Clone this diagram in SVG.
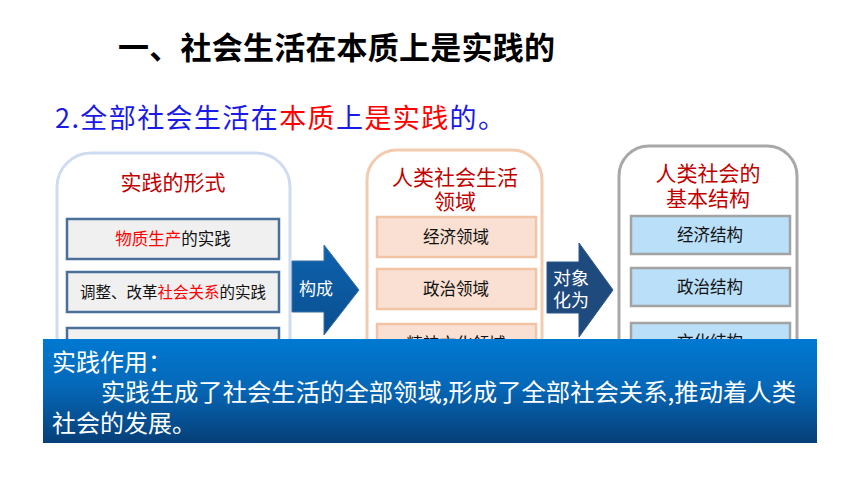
<svg xmlns="http://www.w3.org/2000/svg" width="860" height="484" viewBox="0 0 860 484">
<defs>
<linearGradient id="gBlue" x1="0" y1="0" x2="0" y2="1">
<stop offset="0" stop-color="#0079d2"/>
<stop offset="0.45" stop-color="#0568b8"/>
<stop offset="1" stop-color="#063f78"/>
</linearGradient>
<linearGradient id="gArr1" x1="0" y1="0" x2="0" y2="1">
<stop offset="0" stop-color="#0d62ae"/>
<stop offset="1" stop-color="#0a4f90"/>
</linearGradient>
</defs>
<style>
text{font-family:"Noto Sans CJK SC","Noto Sans",sans-serif;}
.ttl{font-size:21px;fill:#c00000;text-anchor:middle;}
.bt{font-size:16.5px;fill:#111;text-anchor:middle;}
.red{fill:#ff0000;}
.boxL{fill:#f0f0f0;stroke:#4a6f9a;stroke-width:2.5;}
.boxM{fill:#f9e0d2;stroke:#f2c4a6;stroke-width:2.5;}
.boxR{fill:#b9dff9;stroke:#a3a3a3;stroke-width:2.5;}
.aw{font-size:17px;fill:#fff;}
.wt{font-size:24px;fill:#fff;}
</style>
<rect width="860" height="484" fill="#ffffff"/>
<text x="118" y="59" font-size="31" font-weight="bold" fill="#000" textLength="437" lengthAdjust="spacing">一、社会生活在本质上是实践的</text>
<text x="55" y="128" font-size="27" fill="#1a1ae6" textLength="450" lengthAdjust="spacing">2.全部社会生活在<tspan fill="#ff0000">本质</tspan>上<tspan fill="#ff0000">是实践</tspan>的。</text>

<g id="panel-forms">
<rect x="57" y="153" width="233" height="280" rx="34" fill="#fff" stroke="#cddcf0" stroke-width="3"/>
<text class="ttl" x="173" y="190">实践的形式</text>
<rect class="boxL" x="67" y="219" width="212" height="40"/>
<text class="bt" x="173" y="245"><tspan class="red">物质生产</tspan>的实践</text>
<rect class="boxL" x="67" y="272" width="212" height="40"/>
<text class="bt" x="173" y="298" style="font-size:15.5px">调整、改革<tspan class="red">社会关系</tspan>的实践</text>
<rect class="boxL" x="67" y="328" width="212" height="40"/>
</g>

<g id="panel-domains">
<rect x="367" y="150" width="175" height="283" rx="30" fill="#fff" stroke="#f3cbb1" stroke-width="3"/>
<text class="ttl" x="455" y="185">人类社会生活<tspan x="455" dy="24">领域</tspan></text>
<rect class="boxM" x="377" y="217" width="159" height="40"/>
<text class="bt" x="456" y="243">经济领域</text>
<rect class="boxM" x="377" y="269" width="159" height="40"/>
<text class="bt" x="456" y="295">政治领域</text>
<rect class="boxM" x="377" y="324" width="159" height="40"/>
<text class="bt" x="456" y="350">精神文化领域</text>
</g>

<g id="panel-structure">
<rect x="619" y="146" width="178" height="287" rx="30" fill="#fff" stroke="#a8a8a8" stroke-width="3"/>
<text class="ttl" x="708" y="181">人类社会的<tspan x="708" dy="25">基本结构</tspan></text>
<rect class="boxR" x="631" y="216" width="159" height="38"/>
<text class="bt" x="710" y="241">经济结构</text>
<rect class="boxR" x="631" y="268" width="159" height="38"/>
<text class="bt" x="710" y="293">政治结构</text>
<rect class="boxR" x="631" y="323" width="159" height="38"/>
<text class="bt" x="710" y="348">文化结构</text>
</g>

<g id="connectors">
<g id="arrow-constitute">
<path d="M292,261 H324 V245 L359,290 L324,335 V312 H292 Z" fill="url(#gArr1)" stroke="#3d6fa3" stroke-width="1"/>
<text class="aw" x="299" y="295">构成</text>
</g>
<g id="arrow-objectify">
<path d="M547,262 H579 V243 L613,290 L579,337 V313 H547 Z" fill="#1f4a7e" stroke="#2c5788" stroke-width="1"/>
<text class="aw" x="553" y="285" style="font-size:18px">对象<tspan x="553" dy="22">化为</tspan></text>
</g>
</g>

<g id="summary">
<rect x="43" y="339" width="774" height="104" fill="url(#gBlue)"/>
<text class="wt" x="52" y="371">实践作用：</text>
<text class="wt" x="101" y="401" textLength="695" lengthAdjust="spacingAndGlyphs">实践生成了社会生活的全部领域,形成了全部社会关系,推动着人类</text>
<text class="wt" x="52" y="432">社会的发展。</text>
</g>
</svg>
